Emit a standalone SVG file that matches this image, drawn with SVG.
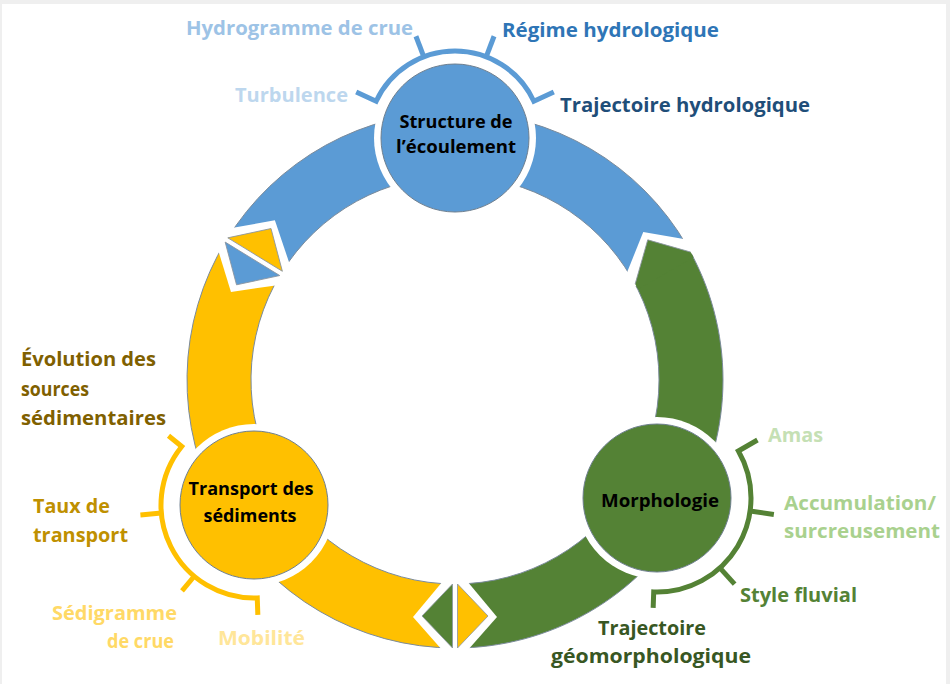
<svg xmlns="http://www.w3.org/2000/svg" width="950" height="684" viewBox="0 0 950 684">
<style>
.bg{fill:#EFEFEF}
.paper{fill:#FFFFFF}
.band{stroke:#7B8B9B;stroke-width:1}
.b{fill:#5B9BD5}
.y{fill:#FFC000}
.g{fill:#548235}
.gap{fill:#FFFFFF}
.tri{stroke:#8A94A0;stroke-width:0.8}
.halo{fill:#FFFFFF}
.disc{stroke:#6E7F8F;stroke-width:1}
.brk{fill:none;stroke-width:5;stroke-linejoin:miter;stroke-linecap:butt}
.bb{stroke:#5B9BD5}
.by{stroke:#FFC000}
.bgr{stroke:#548235}
text{font-family:"Open Sans","Liberation Sans",sans-serif;font-weight:700}
.lbl{font-size:19px}
.cl{font-size:18px;fill:#000000;text-anchor:middle}
</style>
<defs>
<polygon id="diam" points="201,-12 237,-42 271,-12 271,12 237,42 201,12"/>
<polygon id="triP" points="204,2.5 268,2.5 236,33"/>
<polygon id="triN" points="204,-2.5 268,-2.5 236,-33"/>
</defs>
<rect class="bg" x="0" y="0" width="950" height="684"/>
<rect class="paper" x="2" y="4" width="944" height="680"/>

<g id="connectors">
<path class="band g" d="M687.09,246 A268 268 0 0 1 455,648 L455,584 A204 204 0 0 0 631.67,278 Z"/>
<path class="band y" d="M455,648 A268 268 0 0 1 226.49,239.97 L281.06,273.41 A204 204 0 0 0 455,584 Z"/>
<path class="band b" d="M226.49,239.97 A268 268 0 0 1 687.09,246 L631.67,278 A204 204 0 0 0 281.06,273.41 Z"/>
<g id="junction-bottom" transform="translate(455 380) rotate(90)">
<use href="#diam" class="gap"/>
<use href="#triP" class="g tri"/>
<use href="#triN" class="y tri"/>
</g>
<g id="junction-left" transform="translate(455 380) rotate(211.5)">
<use href="#diam" class="gap"/>
<use href="#triP" class="y tri"/>
<use href="#triN" class="b tri"/>
</g>
<g id="junction-right" transform="translate(455 380) rotate(330)">
<polygon class="gap" points="200,-5 237,-34 272,-5 272,9 200,9"/>
<polygon class="g" points="204,7 237,-25 268,7 268,13 204,13"/>
<polyline fill="none" stroke="#8A94A0" stroke-width="0.8" points="204,7 237,-25 268,7"/>
</g>
</g>

<g id="node-structure">
<circle class="halo" cx="455" cy="138" r="81"/>
<circle class="disc b" cx="455" cy="138" r="74"/>
<text class="cl" x="456" y="128" textLength="113" lengthAdjust="spacingAndGlyphs">Structure de</text>
<text class="cl" x="456" y="153" textLength="120" lengthAdjust="spacingAndGlyphs">l’écoulement</text>
<path class="brk bb" d="M356.21,91.93 L376.15,101.23 A87 87 0 0 1 533.85,101.23 L553.79,91.93"/>
<line class="brk bb" x1="423.82" y1="56.78" x2="415.94" y2="36.24"/>
<line class="brk bb" x1="486.18" y1="56.78" x2="494.06" y2="36.24"/>
<text class="lbl" x="186" y="35" fill="#9DC3E6" textLength="227" lengthAdjust="spacingAndGlyphs">Hydrogramme de crue</text>
<text class="lbl" x="502" y="37" fill="#2E75B6" textLength="217" lengthAdjust="spacingAndGlyphs">Régime hydrologique</text>
<text class="lbl" x="235" y="102" fill="#BDD7EE" textLength="113" lengthAdjust="spacingAndGlyphs">Turbulence</text>
<text class="lbl" x="560" y="112" fill="#1F4E79" textLength="250" lengthAdjust="spacingAndGlyphs">Trajectoire hydrologique</text>
</g>

<g id="node-transport">
<circle class="halo" cx="254" cy="505" r="81"/>
<circle class="disc y" cx="254" cy="505" r="74"/>
<text class="cl" x="251" y="495" textLength="125" lengthAdjust="spacingAndGlyphs">Transport des</text>
<text class="cl" x="250" y="522" textLength="93" lengthAdjust="spacingAndGlyphs">sédiments</text>
<path class="brk by" d="M168.51,435.77 L181.73,446.47 A93 93 0 0 0 257.25,597.94 L257.84,614.93"/>
<line class="brk by" x1="161.35" y1="513.11" x2="140.43" y2="514.94"/>
<line class="brk by" x1="194.22" y1="576.24" x2="182.01" y2="590.80"/>
<text class="lbl" fill="#7F6000"><tspan x="21" y="366" textLength="135" lengthAdjust="spacingAndGlyphs">Évolution des</tspan></text>
<text class="lbl" x="21" y="396" fill="#7F6000" textLength="68" lengthAdjust="spacingAndGlyphs">sources</text>
<text class="lbl" x="21" y="425" fill="#7F6000" textLength="145" lengthAdjust="spacingAndGlyphs">sédimentaires</text>
<text class="lbl" x="33" y="513" fill="#BF9000" textLength="77" lengthAdjust="spacingAndGlyphs">Taux de</text>
<text class="lbl" x="33" y="542" fill="#BF9000" textLength="95" lengthAdjust="spacingAndGlyphs">transport</text>
<text class="lbl" x="52" y="620" fill="#FFD966" textLength="125" lengthAdjust="spacingAndGlyphs">Sédigramme</text>
<text class="lbl" x="107" y="648" fill="#FFD966" textLength="67" lengthAdjust="spacingAndGlyphs">de crue</text>
<text class="lbl" x="218" y="645" fill="#FFE699" textLength="87" lengthAdjust="spacingAndGlyphs">Mobilité</text>
</g>

<g id="node-morphologie">
<circle class="halo" cx="657" cy="498" r="81"/>
<circle class="disc g" cx="657" cy="498" r="74"/>
<text class="cl" x="660" y="507" textLength="118" lengthAdjust="spacingAndGlyphs">Morphologie</text>
<path class="brk bgr" d="M757.46,440 L738.41,451 A94 94 0 0 1 653.72,591.94 L653.16,607.93"/>
<line class="brk bgr" x1="750.09" y1="511.08" x2="773.85" y2="514.42"/>
<line class="brk bgr" x1="719.90" y1="567.86" x2="734.62" y2="584.20"/>
<text class="lbl" x="768" y="442" fill="#C5E0B4" textLength="55" lengthAdjust="spacingAndGlyphs">Amas</text>
<text class="lbl" x="784" y="510" fill="#A9D18E" textLength="152" lengthAdjust="spacingAndGlyphs">Accumulation/</text>
<text class="lbl" x="784" y="538" fill="#A9D18E" textLength="156" lengthAdjust="spacingAndGlyphs">surcreusement</text>
<text class="lbl" x="740" y="602" fill="#548235" textLength="117" lengthAdjust="spacingAndGlyphs">Style fluvial</text>
<text class="lbl" x="598" y="635" fill="#385723" textLength="108" lengthAdjust="spacingAndGlyphs">Trajectoire</text>
<text class="lbl" x="551" y="663" fill="#385723" textLength="200" lengthAdjust="spacingAndGlyphs">géomorphologique</text>
</g>
</svg>
